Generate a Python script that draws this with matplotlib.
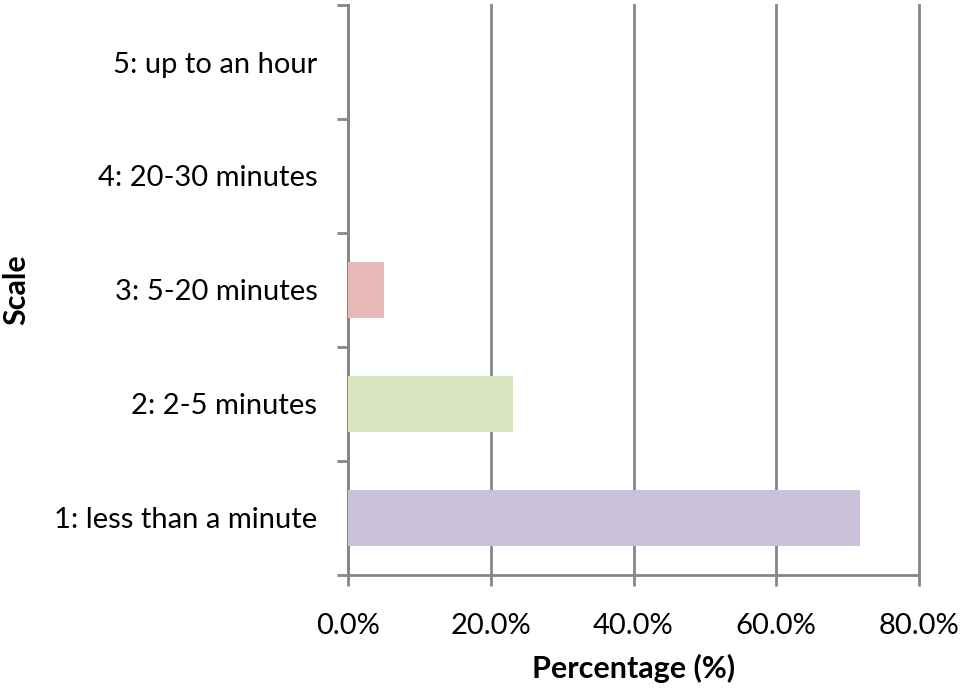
import numpy as np
import matplotlib.pyplot as plt
from matplotlib.ticker import FuncFormatter

# survey responses per scale step (percent)
categories = ['1: less than a minute', '2: 2-5 minutes', '3: 5-20 minutes',
              '4: 20-30 minutes', '5: up to an hour']
percentages = [71.8, 23.1, 5.1, 0.0, 0.0]
barColors = ['#CCC1DA', '#D7E4BD', '#E6B9B8', '#B9CDE5', '#FCD5B5']
xTicks = [0, 20, 40, 60, 80]

plt.rcParams['font.family'] = ['Lato', 'DejaVu Sans']
gridGray = '#868686'

fig = plt.figure(figsize=(9.62, 6.88), dpi=100)
ax = fig.add_axes([348/962, 1 - 575/688, (919 - 348)/962, (575 - 5)/688])

yPos = np.arange(len(categories))
ax.barh(yPos, percentages, height=0.49, color=barColors, zorder=3)

ax.set_xlim(0, 80)
ax.set_ylim(-0.5, len(categories) - 0.5)
ax.set_xticks(xTicks)
ax.xaxis.set_major_formatter(FuncFormatter(lambda v, p: '%.1f%%' % v))
ax.grid(axis='x', color=gridGray, linewidth=2, zorder=0)
for gl in ax.get_xgridlines():
    gl.set_clip_on(False)

# category labels sit between the boundary ticks
ax.set_yticks(np.arange(-0.5, len(categories)), minor=False)
ax.set_yticklabels([])
ax.set_yticks(yPos, minor=True)
ax.set_yticklabels(categories, minor=True)
ax.tick_params(axis='y', which='minor', length=0, pad=22, labelsize=21)
ax.tick_params(axis='y', which='major', length=8, width=2, color=gridGray)
ax.tick_params(axis='x', length=8, width=2, color=gridGray, pad=19, labelsize=21)

for side in ['top', 'right']:
    ax.spines[side].set_visible(False)
for side in ['left', 'bottom']:
    ax.spines[side].set_color(gridGray)
    ax.spines[side].set_linewidth(2)

ax.set_xlabel('Percentage (%)', fontsize=22, fontweight='bold', labelpad=11)
fig.text(16/962, 1 - 290/688, 'Scale', rotation=90, fontsize=22,
         fontweight='bold', ha='center', va='center')

fig.savefig('out.png', dpi=100)
